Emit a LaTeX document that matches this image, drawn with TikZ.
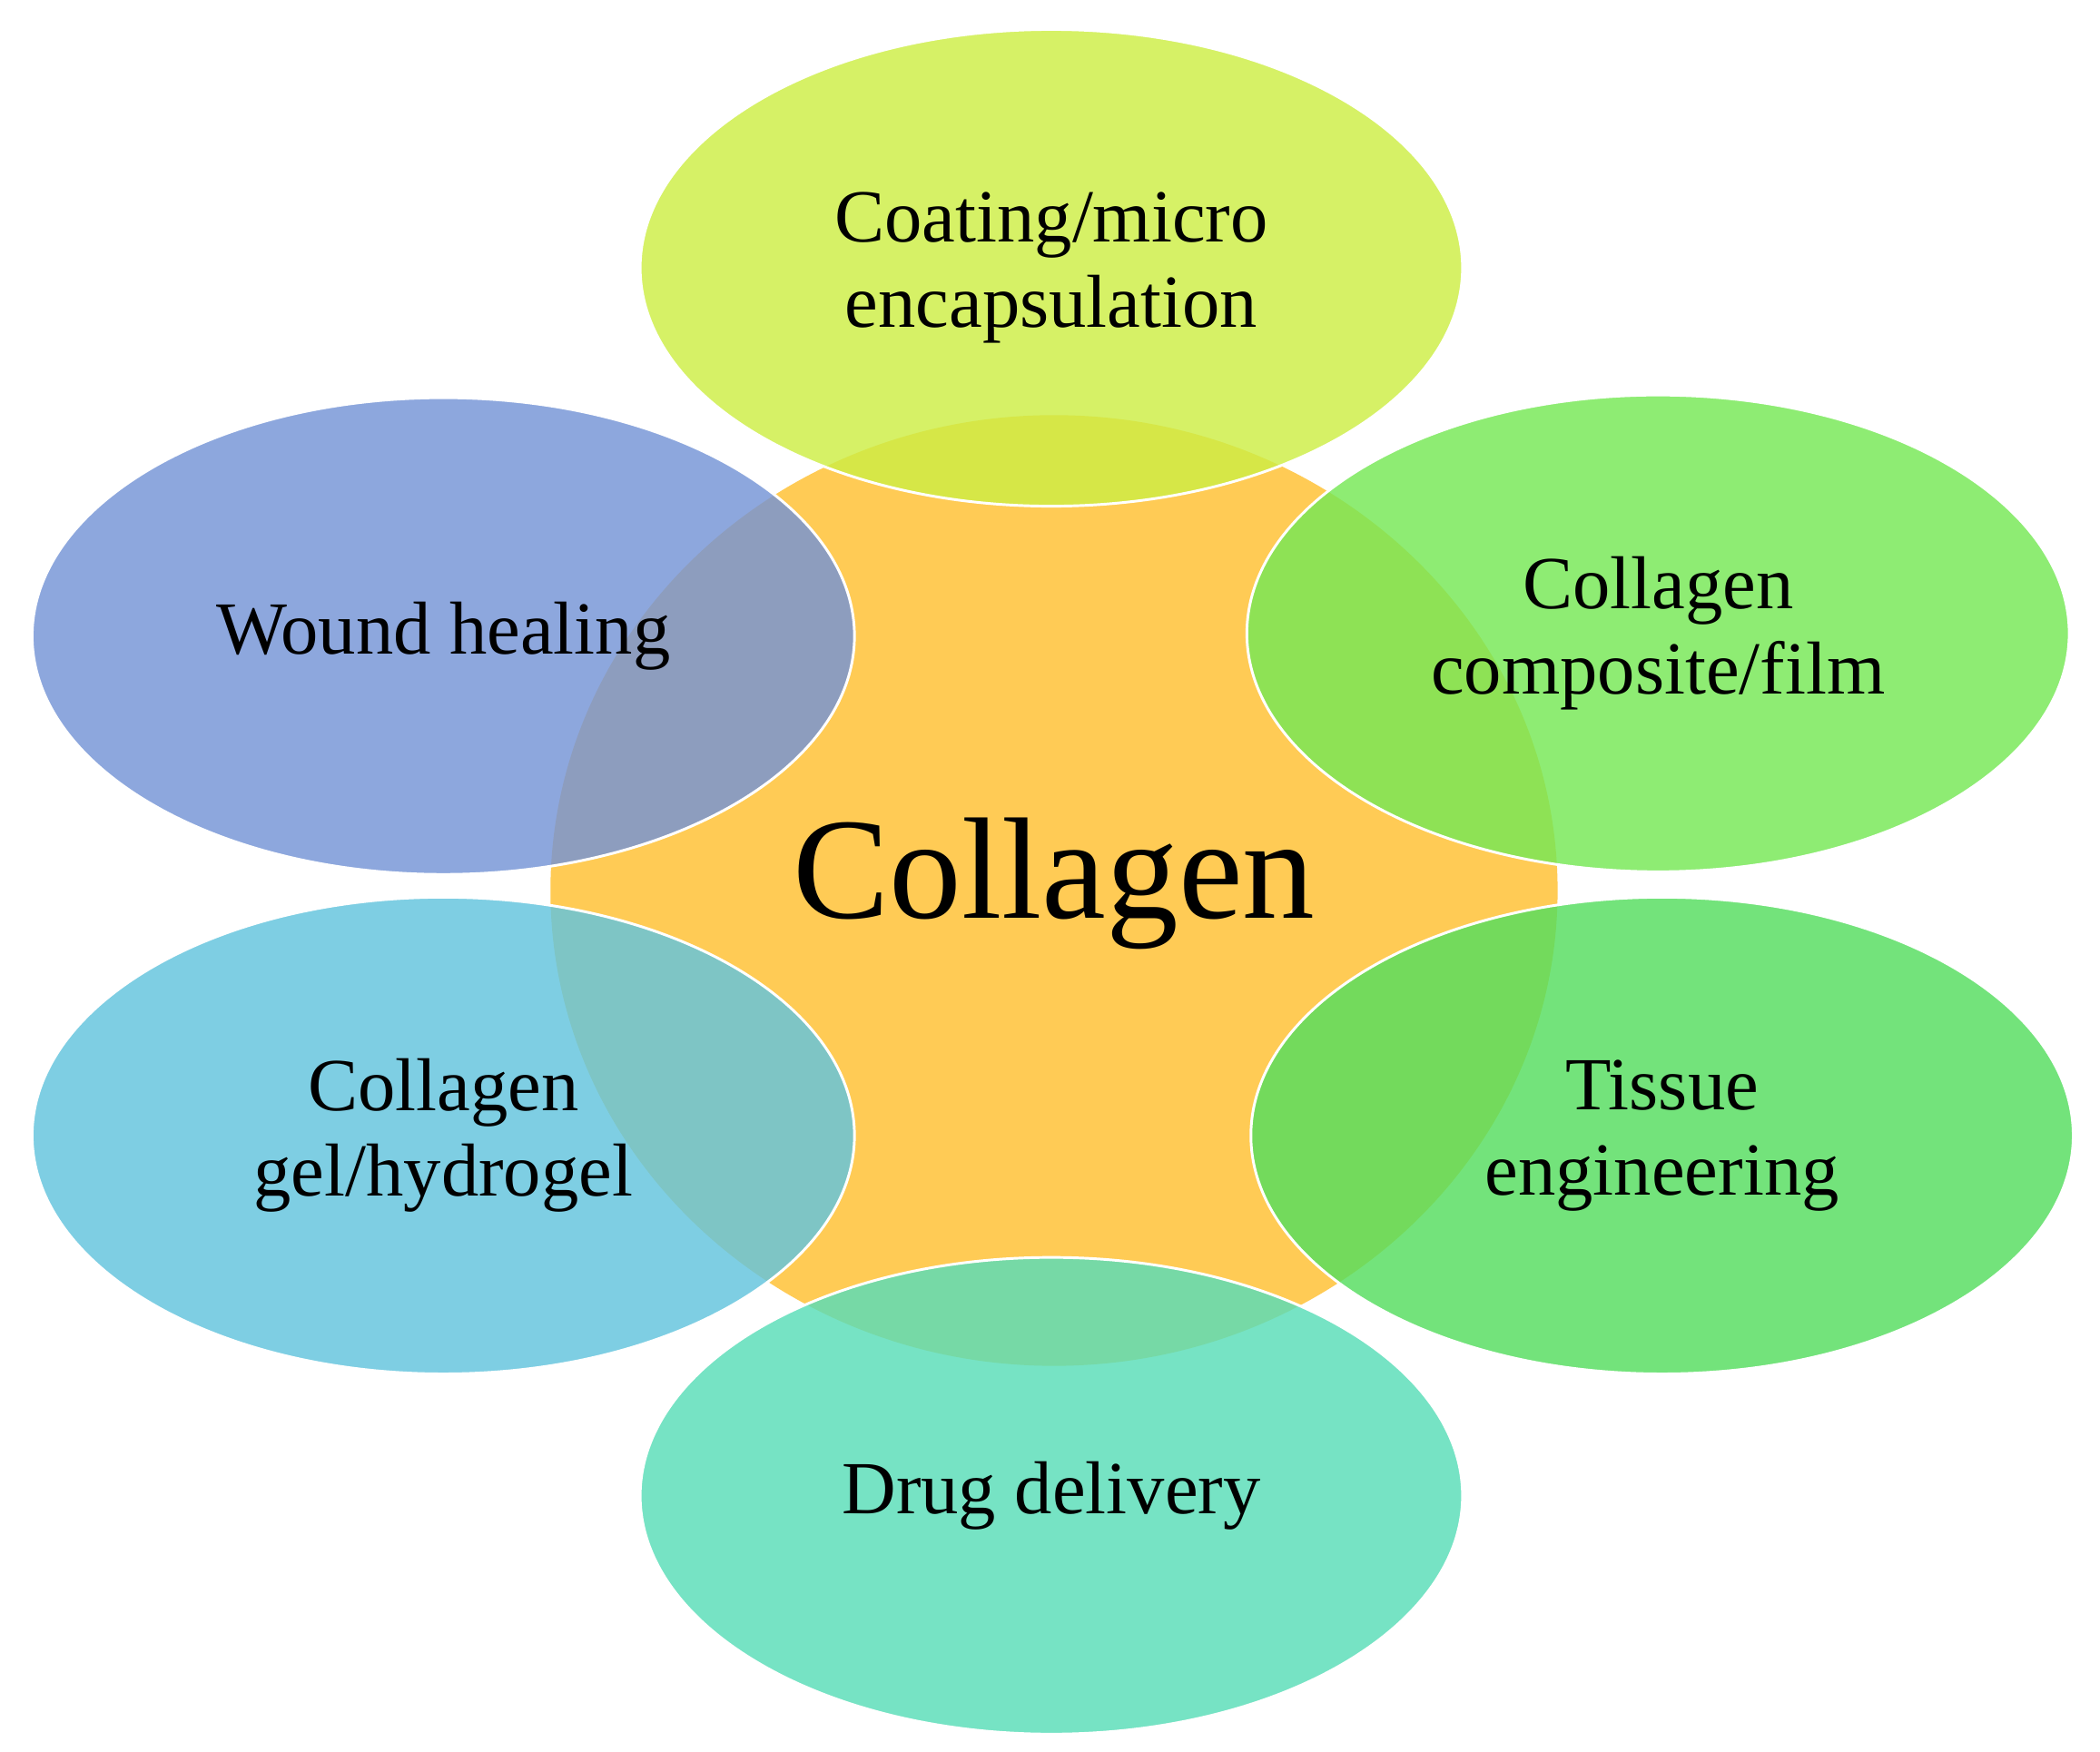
\documentclass[tikz,border=0pt]{standalone}
\usepackage{fontspec}
\setmainfont{Liberation Serif}
\usetikzlibrary{shapes.geometric}
\definecolor{corange}{HTML}{FFCB55}
\definecolor{ctop}{HTML}{CDEE45}
\definecolor{cwound}{HTML}{7594D6}
\definecolor{ccomp}{HTML}{76E855}
\definecolor{cgel}{HTML}{62C4DE}
\definecolor{ctis}{HTML}{55DE5E}
\definecolor{cdrug}{HTML}{58DDB8}
\tikzset{
  petal/.style={ellipse, draw=white, line width=2pt, fill opacity=0.82, text opacity=1,
    minimum width=614pt, minimum height=356pt, inner sep=0pt, align=center,
    font=\fontsize{56}{64}\selectfont},
}
\begin{document}
\begin{tikzpicture}[x=1pt,y=-1pt]
\useasboundingbox (0,0) rectangle (1568,1308);
\fill[white] (0,0) rectangle (1568,1308);
\node[ellipse, fill=corange, minimum width=752pt, minimum height=710pt, inner sep=0pt] (core) at (787,665) {};
\node[petal, fill=ctop] (top) at (785,200) {Coating/micro\\encapsulation};
\node[petal, fill=cwound] (wound) at (331,475) {Wound healing};
\node[petal, fill=ccomp] (comp) at (1238,473) {Collagen\\composite/film};
\node[petal, fill=cgel] (gel) at (331,848) {Collagen\\gel/hydrogel};
\node[petal, fill=ctis] (tis) at (1241,848) {Tissue\\engineering};
\node[petal, fill=cdrug] (drug) at (785,1117) {Drug delivery};
\node[font=\fontsize{108}{120}\selectfont] (label) at (787,660) {Collagen};
\end{tikzpicture}
\end{document}
